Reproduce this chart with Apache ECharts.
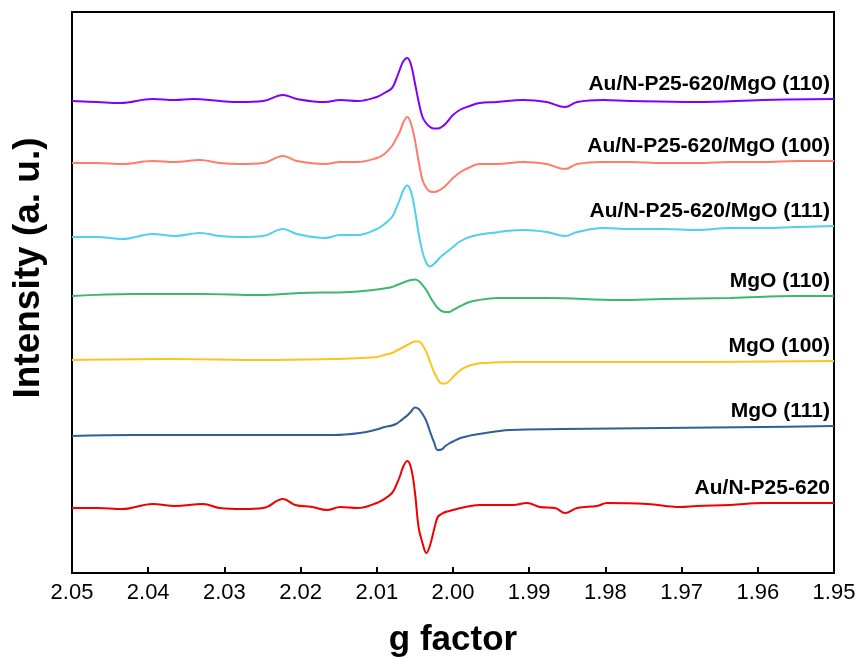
<!DOCTYPE html>
<html>
<head>
<meta charset="utf-8">
<script src="https://cdn.jsdelivr.net/npm/echarts@6/dist/echarts.min.js"></script>
<style>
  html, body { margin: 0; padding: 0; background: #fff; }
  #chart { width: 863px; height: 660px; }
</style>
</head>
<body>
<div id="chart"></div>
<script>
// EPR spectra, vertically offset (g factor vs. intensity in a.u.)
const gTicks = [2.05, 2.04, 2.03, 2.02, 2.01, 2.00, 1.99, 1.98, 1.97, 1.96, 1.95];

const seriesNames = [
  'Au/N-P25-620/MgO (110)',
  'Au/N-P25-620/MgO (100)',
  'Au/N-P25-620/MgO (111)',
  'MgO (110)',
  'MgO (100)',
  'MgO (111)',
  'Au/N-P25-620'
];
const seriesColors = ['#8000ff', '#ff7b6b', '#4fd0ee', '#3cb86c', '#ffc21f', '#2f5f96', '#f00000'];

const gAuMgO110 = [2.0500, 2.0467, 2.0437, 2.0394, 2.0365, 2.0341, 2.0306, 2.0280, 2.0249, 2.0223, 2.0205, 2.0168, 2.0148, 2.0125,
  2.0100, 2.0090, 2.0080, 2.0075, 2.0070, 2.0065, 2.0060, 2.0055, 2.0050, 2.0045, 2.0040, 2.0035, 2.0030, 2.0025, 2.0020, 2.0015, 2.0010, 2.0000, 1.9990,
  1.9980, 1.9965, 1.9942, 1.9908, 1.9877, 1.9853, 1.9837, 1.9803, 1.9768, 1.9680, 1.9593, 1.9500];
const iAuMgO110 = [47.2, 47.1, 47.0, 47.4, 47.3, 47.4, 47.2, 47.1, 47.2, 47.8, 47.4, 47.1, 47.3, 47.2,
  47.6, 48.0, 48.5, 49.3, 50.3, 51.2, 51.5, 50.8, 49.0, 47.1, 45.6, 44.95, 44.6, 44.45, 44.45, 44.6, 44.9, 45.8, 46.35,
  46.65, 47.0, 47.1, 47.3, 47.1, 46.6, 47.1, 47.3, 47.2, 47.1, 47.3, 47.4];

const gAuMgO100 = [2.0500, 2.0467, 2.0434, 2.0394, 2.0365, 2.0332, 2.0306, 2.0280, 2.0249, 2.0223, 2.0205, 2.0168, 2.0148, 2.0125,
  2.0100, 2.0090, 2.0080, 2.0075, 2.0070, 2.0065, 2.0060, 2.0055, 2.0050, 2.0045, 2.0040, 2.0035, 2.0030, 2.0025, 2.0020, 2.0015, 2.0010, 2.0000, 1.9990,
  1.9980, 1.9965, 1.9942, 1.9908, 1.9877, 1.9853, 1.9837, 1.9803, 1.9768, 1.9724, 1.9680, 1.9636, 1.9593, 1.9549, 1.9500];
const iAuMgO100 = [41.0, 41.0, 40.9, 41.2, 41.1, 41.3, 41.0, 40.9, 41.0, 41.7, 41.2, 40.9, 41.1, 41.1,
  41.5, 41.9, 42.7, 43.4, 44.1, 45.1, 45.6, 44.9, 43.3, 41.1, 39.3, 38.5, 38.15, 38.1, 38.2, 38.4, 38.7, 39.5, 40.1,
  40.5, 40.9, 40.9, 41.1, 40.9, 40.4, 40.9, 41.1, 41.1, 41.0, 41.0, 41.1, 41.1, 41.2, 41.2];

const gAuMgO111 = [2.0500, 2.0467, 2.0434, 2.0394, 2.0365, 2.0332, 2.0306, 2.0280, 2.0249, 2.0223, 2.0205, 2.0168, 2.0148, 2.0125,
  2.0100, 2.0090, 2.0080, 2.0075, 2.0070, 2.0065, 2.0060, 2.0055, 2.0050, 2.0045, 2.0040, 2.0035, 2.0030, 2.0025, 2.0020, 2.0015, 2.0010, 2.0000, 1.9990,
  1.9974, 1.9951, 1.9908, 1.9877, 1.9853, 1.9837, 1.9803, 1.9768, 1.9724, 1.9680, 1.9636, 1.9593, 1.9549, 1.9500];
const iAuMgO111 = [33.6, 33.6, 33.4, 33.9, 33.7, 34.0, 33.7, 33.6, 33.7, 34.4, 33.9, 33.5, 33.8, 33.8,
  34.4, 34.9, 35.6, 36.4, 37.3, 38.3, 38.75, 38.1, 36.3, 33.9, 32.1, 31.0, 30.65, 30.9, 31.3, 31.7, 32.0, 32.6, 33.2,
  33.7, 34.0, 34.3, 34.1, 33.7, 34.1, 34.5, 34.4, 34.4, 34.3, 34.5, 34.5, 34.6, 34.7];

const gMgO110 = [2.0500, 2.0420, 2.0332, 2.0253, 2.0201, 2.0135,
  2.0100, 2.0090, 2.0080, 2.0075, 2.0070, 2.0065, 2.0060, 2.0055, 2.0050, 2.0045, 2.0040, 2.0035, 2.0030, 2.0025, 2.0020, 2.0015, 2.0010, 2.0005, 2.0000, 1.9990, 1.9980, 1.9970,
  1.9942, 1.9877, 1.9781, 1.9724, 1.9636, 1.9549, 1.9500];
const iMgO110 = [27.7, 27.9, 27.9, 27.8, 28.0, 28.1,
  28.35, 28.45, 28.6, 28.75, 28.9, 29.05, 29.2, 29.3, 29.35, 29.2, 28.8, 28.3, 27.6, 27.0, 26.5, 26.2, 26.1, 26.1, 26.3, 26.7, 27.05, 27.25,
  27.5, 27.5, 27.3, 27.4, 27.5, 27.7, 27.7];

const gMgO100 = [2.0500, 2.0375, 2.0244, 2.0157, 2.0122,
  2.0100, 2.0090, 2.0080, 2.0075, 2.0070, 2.0065, 2.0060, 2.0055, 2.0050, 2.0045, 2.0040, 2.0035, 2.0030, 2.0025, 2.0020, 2.0015, 2.0010, 2.0005, 2.0000, 1.9990, 1.9980, 1.9970, 1.9960,
  1.9921, 1.9811, 1.9680, 1.9500];
const iMgO100 = [21.3, 21.4, 21.3, 21.4, 21.5,
  21.6, 21.8, 22.0, 22.2, 22.4, 22.6, 22.8, 23.0, 23.15, 23.15, 22.8, 22.1, 21.1, 20.1, 19.4, 18.95, 18.95, 19.2, 19.6, 20.3, 20.7, 20.9, 21.0,
  21.1, 21.1, 21.1, 21.2];

const gMgO111 = [2.0500, 2.0420, 2.0332, 2.0244, 2.0157, 2.0122,
  2.0100, 2.0090, 2.0080, 2.0075, 2.0070, 2.0065, 2.0060, 2.0055, 2.0050, 2.0045, 2.0040, 2.0035, 2.0030, 2.0025, 2.0020, 2.0015, 2.0010, 2.0005, 2.0000, 1.9990, 1.9980, 1.9970,
  1.9925, 1.9856, 1.9724, 1.9593, 1.9500];
const iMgO111 = [13.7, 13.8, 13.8, 13.8, 13.8, 14.0,
  14.35, 14.6, 14.75, 14.9, 15.15, 15.45, 15.75, 16.15, 16.55, 16.4, 15.9, 15.2, 14.1, 13.1, 12.3, 12.35, 12.7, 12.95, 13.15, 13.5, 13.7, 13.85,
  14.3, 14.4, 14.5, 14.6, 14.7];

const gAuP25 = [2.0500, 2.0467, 2.0434, 2.0394, 2.0365, 2.0328, 2.0306, 2.0276, 2.0249, 2.0223, 2.0207, 2.0185, 2.0165, 2.0148, 2.0125,
  2.0100, 2.0090, 2.0080, 2.0075, 2.0070, 2.0065, 2.0060, 2.0055, 2.0050, 2.0045, 2.0040, 2.0035, 2.0030, 2.0025, 2.0020, 2.0015, 2.0010, 2.0000, 1.9990,
  1.9965, 1.9921, 1.9903, 1.9886, 1.9866, 1.9853, 1.9837, 1.9811, 1.9798, 1.9745, 1.9702, 1.9680, 1.9636, 1.9593, 1.9549, 1.9500];
const iAuP25 = [6.5, 6.5, 6.4, 6.9, 6.7, 6.9, 6.5, 6.4, 6.5, 7.4, 6.8, 6.6, 6.3, 6.6, 6.5,
  7.0, 7.4, 8.0, 8.7, 9.6, 10.7, 11.2, 10.5, 8.1, 4.5, 3.0, 2.0, 2.8, 4.3, 5.6, 5.9, 6.1, 6.3, 6.5,
  6.8, 6.8, 7.0, 6.6, 6.5, 6.0, 6.5, 6.7, 7.0, 6.9, 6.6, 6.7, 6.8, 7.0, 7.0, 7.0];

const gSets = [gAuMgO110, gAuMgO100, gAuMgO111, gMgO110, gMgO100, gMgO111, gAuP25];
const iSets = [iAuMgO110, iAuMgO100, iAuMgO111, iMgO110, iMgO100, iMgO111, iAuP25];

const FONT = "'Liberation Sans', Arial, sans-serif";

const chart = echarts.init(document.getElementById('chart'), null, { renderer: 'canvas' });

const series = seriesNames.map((name, k) => ({
  name: name,
  type: 'line',
  data: gSets[k].map((g, j) => [g, iSets[k][j]]),
  showSymbol: false,
  smooth: 0.4,
  lineStyle: { width: 2, color: seriesColors[k] },
  itemStyle: { color: seriesColors[k] },
  z: 3,
  endLabel: {
    show: true,
    formatter: name,
    color: '#000',
    fontFamily: FONT,
    fontWeight: 'bold',
    fontSize: 21,
    align: 'right',
    verticalAlign: 'bottom',
    distance: 0,
    offset: [-4, -4]
  },
  animation: false
}));

chart.setOption({
  animation: false,
  backgroundColor: '#fff',
  grid: {
    left: 72, right: 29, top: 12, bottom: 87,
    outerBoundsMode: 'none',
    containLabel: false,
    show: true, borderColor: '#000', borderWidth: 2, backgroundColor: 'transparent'
  },
  xAxis: {
    type: 'value',
    min: 1.95,
    max: 2.05,
    interval: 0.01,
    inverse: true,
    name: 'g factor',
    nameLocation: 'middle',
    nameGap: 50,
    nameTextStyle: { fontFamily: FONT, fontWeight: 'bold', fontSize: 35, color: '#000' },
    axisLine: { show: true, lineStyle: { color: '#000', width: 2 } },
    axisTick: { show: true, inside: true, length: 6, lineStyle: { color: '#000', width: 2 } },
    axisLabel: {
      fontFamily: FONT, fontSize: 22, color: '#000', margin: 9,
      formatter: v => {
        const hit = gTicks.find(t => Math.abs(t - v) < 1e-6);
        return hit !== undefined ? hit.toFixed(2) : '';
      }
    },
    splitLine: { show: false }
  },
  yAxis: {
    type: 'value',
    min: 0,
    max: 56.1,
    axisLine: { show: true, lineStyle: { color: '#000', width: 2 } },
    axisTick: { show: false },
    axisLabel: { show: false },
    splitLine: { show: false }
  },
  graphic: [{
    type: 'text',
    x: 29,
    y: 268,
    rotation: Math.PI / 2,
    style: {
      text: 'Intensity (a. u.)',
      fontFamily: FONT,
      fontWeight: 'bold',
      fontSize: 37,
      fill: '#000',
      align: 'center',
      verticalAlign: 'middle'
    }
  }],
  series: series
});
</script>
</body>
</html>
